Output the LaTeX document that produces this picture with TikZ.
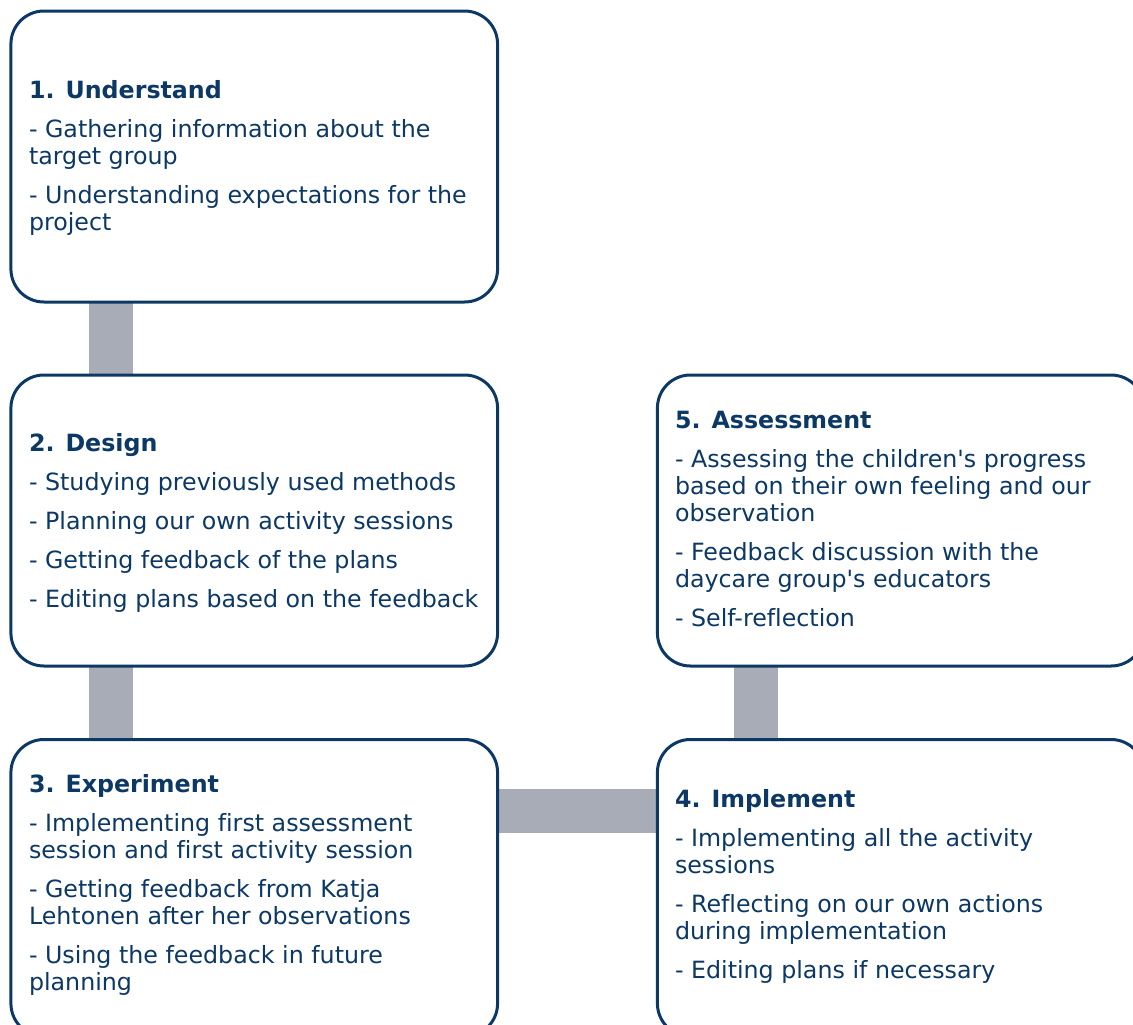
\documentclass[tikz,border=0pt]{standalone}
\usepackage{fontspec}
\setmainfont{DejaVu Sans}[Ligatures={TeXOff,NoCommon}]
\usetikzlibrary{calc}
\definecolor{stageblue}{HTML}{0C3866}
\definecolor{linkgray}{HTML}{A8ACB7}
\pgfdeclarelayer{background}
\pgfsetlayers{background,main}
% text block of one stage: bold heading, then the items
\newcommand\stagetext[2]{\parbox[t]{600pt}{\textbf{#1}\\[9pt]#2}}
\begin{document}
\begin{tikzpicture}[x=0.75pt,y=-0.75pt,
  stagebox/.style={draw=stageblue, line width=2.25pt, fill=white,
    rounded corners=24.75pt, minimum width=365pt, minimum height=218.25pt,
    inner sep=0pt, outer sep=0pt},
  tallbox/.style={stagebox, minimum height=222.75pt},
  body/.style={anchor=base west, inner sep=0pt, outer sep=0pt, text=stageblue,
    font=\fontsize{17.8pt}{20.25pt}\selectfont},
  link/.style={draw=linkgray, line width=33pt}]
\useasboundingbox (0,0) rectangle (1133,1025);
\clip (0,0) rectangle (1133,1025);

% stage frames
\node[stagebox] (b1) at (254.25,156.5) {};
\node[stagebox] (b2) at (254.25,520.5) {};
\node[tallbox]  (b3) at (254.25,888) {};
\node[tallbox]  (b4) at (900.75,888) {};
\node[stagebox] (b5) at (900.75,520.5) {};

% stage texts
\node[body] (t1) at (29,98) {\stagetext{1. Understand}{%
- Gathering information about the\\target group\\[9pt]%
- Understanding expectations for the\\project}};
\node[body] (t2) at (29,451) {\stagetext{2. Design}{%
- Studying previously used methods\\[9pt]%
- Planning our own activity sessions\\[9pt]%
- Getting feedback of the plans\\[9pt]%
- Editing plans based on the feedback}};
\node[body] (t3) at (29,792.5) {\stagetext{3. Experiment}{%
- Implementing first assessment\\session and first activity session\\[9pt]%
- Getting feedback from Katja\\Lehtonen after her observations\\[9pt]%
- Using the feedback in future\\planning}};
\node[body] (t4) at (675,807) {\stagetext{4. Implement}{%
- Implementing all the activity\\sessions\\[9pt]%
- Reflecting on our own actions\\during implementation\\[9pt]%
- Editing plans if necessary}};
\node[body] (t5) at (675,428.5) {\stagetext{5. Assessment}{%
- Assessing the children's progress\\based on their own feeling and our\\observation\\[9pt]%
- Feedback discussion with the\\daycare group's educators\\[9pt]%
- Self-reflection}};

% connecting bars behind the frames
\begin{pgfonlayer}{background}
\draw[link] ($(b1.south west)+(100,0)$) -- ($(b2.north west)+(100,0)$);
\draw[link] ($(b2.south west)+(100,0)$) -- ($(b3.north west)+(100,0)$);
\draw[link] ($(b3.north east)+(0,71.5)$) -- ($(b4.north west)+(0,71.5)$);
\draw[link] ($(b4.north west)+(99,0)$) -- ($(b5.south west)+(99,0)$);
\end{pgfonlayer}
\end{tikzpicture}
\end{document}
